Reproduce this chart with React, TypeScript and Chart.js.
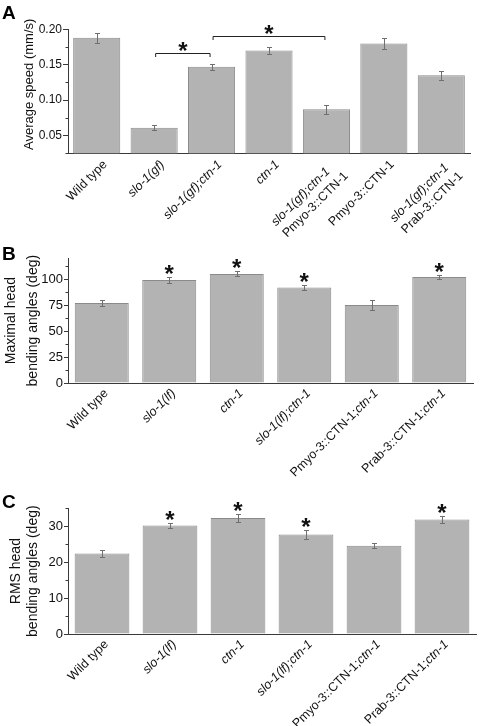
import React, { useEffect, useRef } from 'react';
import { Chart, registerables } from 'chart.js';

Chart.register(...registerables);

const FONT = "'Liberation Sans', Arial, Helvetica, sans-serif";

// ---------- Panel A : average speed ----------
// "_" toggles italic inside a label, "\n" breaks a line
const speedCategories = [
  'Wild type',
  '_slo-1(gf)_',
  '_slo-1(gf);ctn-1_',
  '_ctn-1_',
  '_slo-1(gf);ctn-1_\nPmyo-3::CTN-1',
  'Pmyo-3::CTN-1',
  '_slo-1(gf);ctn-1_\nPrab-3::CTN-1',
];
const speedMeans = [0.188, 0.061, 0.147, 0.17, 0.087, 0.18, 0.135];
const speedErrors = [0.007, 0.0033, 0.0047, 0.0047, 0.0066, 0.0084, 0.0066];
const speedComparisons = [
  [1, 2],
  [2, 4],
];
const speedTicks = [0.05, 0.1, 0.15, 0.2];
const speedMinorTicks = [0.025, 0.075, 0.125, 0.175];

// ---------- Panel B : maximal head bending angles ----------
const angleCategories = [
  'Wild type',
  '_slo-1(lf)_',
  '_ctn-1_',
  '_slo-1(lf);ctn-1_',
  'Pmyo-3::CTN-1;_ctn-1_',
  'Prab-3::CTN-1;_ctn-1_',
];
const maxAngleMeans = [77, 99, 105, 92, 75, 102];
const maxAngleErrors = [3, 3, 2.3, 2.6, 5, 2.4];
const maxAngleSignificant = [false, true, true, true, false, true];
const maxAngleTicks = [0, 25, 50, 75, 100];
const maxAngleMinorTicks = [12.5, 37.5, 62.5, 87.5, 112.5];

// ---------- Panel C : RMS head bending angles ----------
const rmsAngleMeans = [22.4, 30.2, 32.3, 27.7, 24.6, 31.9];
const rmsAngleErrors = [0.95, 0.75, 1.15, 1.15, 0.6, 0.9];
const rmsAngleSignificant = [false, true, true, true, false, true];
const rmsAngleTicks = [0, 10, 20, 30];
const rmsAngleMinorTicks = [5, 15, 25, 35];

type PanelProps = {
  letter: string;
  letterBaseline: number;
  top: number;
  height: number;
  categories: string[];
  means: number[];
  errors: number[];
  min: number;
  max: number;
  ticks: number[];
  minorTicks: number[];
  decimals: number;
  title: string[];
  titleX: number[];
  titleSize: number;
  titleShiftY: number;
  significant?: boolean[];
  comparisons?: number[][];
  padTop: number;
  padBottom: number;
  padRight: number;
  barPct: number;
  tickSize: number;
  tickLength: number;
  labelDx: number;
  labelDy: number;
};

function segments(line: string) {
  return line
    .split('_')
    .map((text, i) => ({ text, italic: i % 2 === 1 }))
    .filter((s) => s.text.length > 0);
}

function fontFor(italic: boolean, size: number) {
  return `${italic ? 'italic ' : ''}${size}px ${FONT}`;
}

function drawStar(ctx: CanvasRenderingContext2D, cx: number, cy: number) {
  ctx.save();
  ctx.font = `bold 24px ${FONT}`;
  ctx.fillStyle = '#111';
  ctx.textAlign = 'center';
  ctx.textBaseline = 'alphabetic';
  const m = ctx.measureText('*');
  const asc = m.actualBoundingBoxAscent;
  const desc = m.actualBoundingBoxDescent;
  const baseline = cy - (desc - asc) / 2;
  ctx.fillText('*', cx, baseline);
  ctx.restore();
}

function Panel(p: PanelProps) {
  const ref = useRef<HTMLCanvasElement>(null);

  useEffect(() => {
    const canvas = ref.current;
    if (!canvas) return;

    const decor = {
      id: 'decor',
      afterDatasetsDraw(chart: any) {
        const ctx: CanvasRenderingContext2D = chart.ctx;
        const y = chart.scales.y;
        const meta = chart.getDatasetMeta(0);
        ctx.save();
        // error bars
        ctx.strokeStyle = '#6f6f6f';
        ctx.lineWidth = 1;
        p.means.forEach((m, i) => {
          const bx = Math.round(meta.data[i].x) + 0.5;
          const yt = Math.round(y.getPixelForValue(m + p.errors[i])) + 0.5;
          const yb = Math.round(y.getPixelForValue(m - p.errors[i])) + 0.5;
          ctx.beginPath();
          ctx.moveTo(bx, yt);
          ctx.lineTo(bx, yb);
          ctx.moveTo(bx - 2.5, yt);
          ctx.lineTo(bx + 2.5, yt);
          ctx.moveTo(bx - 2.5, yb);
          ctx.lineTo(bx + 2.5, yb);
          ctx.stroke();
        });
        // stars over single bars
        if (p.significant) {
          p.significant.forEach((s, i) => {
            if (!s) return;
            const yt = y.getPixelForValue(p.means[i] + p.errors[i]);
            drawStar(ctx, meta.data[i].x, yt - 7.5);
          });
        }
        // comparison brackets
        if (p.comparisons) {
          ctx.strokeStyle = '#222';
          p.comparisons.forEach(([a, b]) => {
            let topPx = Infinity;
            for (let k = a; k <= b; k++) {
              topPx = Math.min(topPx, y.getPixelForValue(p.means[k] + p.errors[k]));
            }
            const by = Math.round(topPx - 11) + 0.5;
            const x1 = meta.data[a].x + 1.5;
            const x2 = meta.data[b].x - 1.5;
            ctx.beginPath();
            ctx.moveTo(x1, by + 3.5);
            ctx.lineTo(x1, by);
            ctx.lineTo(x2, by);
            ctx.lineTo(x2, by + 3.5);
            ctx.stroke();
            drawStar(ctx, (x1 + x2) / 2, by - 7.5);
          });
        }
        ctx.restore();
      },
      afterDraw(chart: any) {
        const ctx: CanvasRenderingContext2D = chart.ctx;
        const y = chart.scales.y;
        const area = chart.chartArea;
        const meta = chart.getDatasetMeta(0);
        ctx.save();
        // minor ticks
        ctx.strokeStyle = '#3a3a3a';
        ctx.lineWidth = 1;
        p.minorTicks.forEach((v) => {
          const py = Math.round(y.getPixelForValue(v)) + 0.5;
          ctx.beginPath();
          ctx.moveTo(area.left - 2.5, py);
          ctx.lineTo(area.left, py);
          ctx.stroke();
        });
        // rotated category labels
        const size = 12.5;
        const lh = 16;
        ctx.fillStyle = '#111';
        ctx.textBaseline = 'top';
        ctx.textAlign = 'left';
        p.categories.forEach((label, i) => {
          const lines = label.split('\n').map(segments);
          const widths = lines.map((segs) =>
            segs.reduce((w, s) => {
              ctx.font = fontFor(s.italic, size);
              return w + ctx.measureText(s.text).width;
            }, 0)
          );
          const W = Math.max(...widths);
          ctx.save();
          ctx.translate(meta.data[i].x + p.labelDx, area.bottom + p.labelDy);
          ctx.rotate(-Math.PI / 4);
          lines.forEach((segs, k) => {
            let x = -W;
            segs.forEach((s) => {
              ctx.font = fontFor(s.italic, size);
              ctx.fillText(s.text, x, k * lh);
              x += ctx.measureText(s.text).width;
            });
          });
          ctx.restore();
        });
        // axis title
        ctx.font = `${p.titleSize}px ${FONT}`;
        ctx.textAlign = 'center';
        ctx.textBaseline = 'middle';
        const cy = (area.top + area.bottom) / 2 + p.titleShiftY;
        p.title.forEach((t, k) => {
          ctx.save();
          ctx.translate(p.titleX[k], cy);
          ctx.rotate(-Math.PI / 2);
          ctx.fillText(t, 0, 0);
          ctx.restore();
        });
        // panel letter
        ctx.font = `bold 19px ${FONT}`;
        ctx.textAlign = 'left';
        ctx.textBaseline = 'alphabetic';
        ctx.fillStyle = '#000';
        ctx.fillText(p.letter, 2, p.letterBaseline);
        ctx.restore();
      },
    };

    const chart = new Chart(canvas, {
      type: 'bar',
      data: {
        labels: p.categories,
        datasets: [
          {
            data: p.means,
            backgroundColor: '#b3b3b3',
            borderColor: '#8a8a8a',
            borderWidth: 1,
            barPercentage: p.barPct,
            categoryPercentage: 1,
          },
        ],
      },
      options: {
        animation: false,
        responsive: false,
        maintainAspectRatio: false,
        layout: { padding: { left: 0, top: p.padTop, right: p.padRight, bottom: p.padBottom } },
        plugins: { legend: { display: false }, tooltip: { enabled: false } },
        scales: {
          x: {
            grid: { display: false, drawTicks: false, tickLength: 0 },
            border: { display: true, color: '#3a3a3a', width: 1 },
            ticks: { display: false },
          },
          y: {
            min: p.min,
            max: p.max,
            afterFit: (s: any) => {
              s.width = 68;
            },
            afterBuildTicks: (s: any) => {
              s.ticks = p.ticks.map((v) => ({ value: v }));
            },
            grid: {
              drawOnChartArea: false,
              drawTicks: true,
              tickLength: p.tickLength,
              tickColor: '#3a3a3a',
              tickWidth: 1,
            },
            border: { display: true, color: '#3a3a3a', width: 1 },
            ticks: {
              padding: 1,
              color: '#111',
              font: { family: FONT, size: p.tickSize },
              callback: (v: any) => Number(v).toFixed(p.decimals),
            },
          },
        },
      },
      plugins: [decor],
    } as any);
    return () => chart.destroy();
  }, []);

  return (
    <canvas
      ref={ref}
      width={480}
      height={p.height}
      style={{ position: 'absolute', left: 0, top: p.top, width: 480, height: p.height, display: 'block' }}
    />
  );
}

export default function App() {
  return (
    <div style={{ position: 'absolute', left: 0, top: 0, width: 480, height: 726, background: '#fff', overflow: 'hidden' }}>
      <Panel
        letter="A"
        letterBaseline={18.5}
        top={0}
        height={245}
        categories={speedCategories}
        means={speedMeans}
        errors={speedErrors}
        min={0.025}
        max={0.2}
        ticks={speedTicks}
        minorTicks={speedMinorTicks}
        decimals={2}
        title={['Average speed (mm/s)']}
        titleX={[29.5]}
        titleSize={13}
        titleShiftY={-7}
        comparisons={speedComparisons}
        padTop={29.3}
        padBottom={245 - 153.3}
        padRight={10}
        barPct={0.82}
        tickSize={12}
        tickLength={5}
        labelDx={4}
        labelDy={5}
      />
      <Panel
        letter="B"
        letterBaseline={15}
        top={245}
        height={245}
        categories={angleCategories}
        means={maxAngleMeans}
        errors={maxAngleErrors}
        min={0}
        max={120}
        ticks={maxAngleTicks}
        minorTicks={maxAngleMinorTicks}
        decimals={0}
        title={['Maximal head', 'bending angles (deg)']}
        titleX={[11, 33.2]}
        titleSize={14}
        titleShiftY={0}
        significant={maxAngleSignificant}
        padTop={13.3}
        padBottom={245 - 138}
        padRight={7}
        barPct={0.8}
        tickSize={13}
        tickLength={4}
        labelDx={0}
        labelDy={4}
      />
      <Panel
        letter="C"
        letterBaseline={18.3}
        top={490}
        height={236}
        categories={angleCategories}
        means={rmsAngleMeans}
        errors={rmsAngleErrors}
        min={0}
        max={35}
        ticks={rmsAngleTicks}
        minorTicks={rmsAngleMinorTicks}
        decimals={0}
        title={['RMS head', 'bending angles (deg)']}
        titleX={[16, 33.2]}
        titleSize={14}
        titleShiftY={0}
        significant={rmsAngleSignificant}
        padTop={18.3}
        padBottom={236 - 144}
        padRight={4}
        barPct={0.805}
        tickSize={13}
        tickLength={4}
        labelDx={0}
        labelDy={4}
      />
    </div>
  );
}
